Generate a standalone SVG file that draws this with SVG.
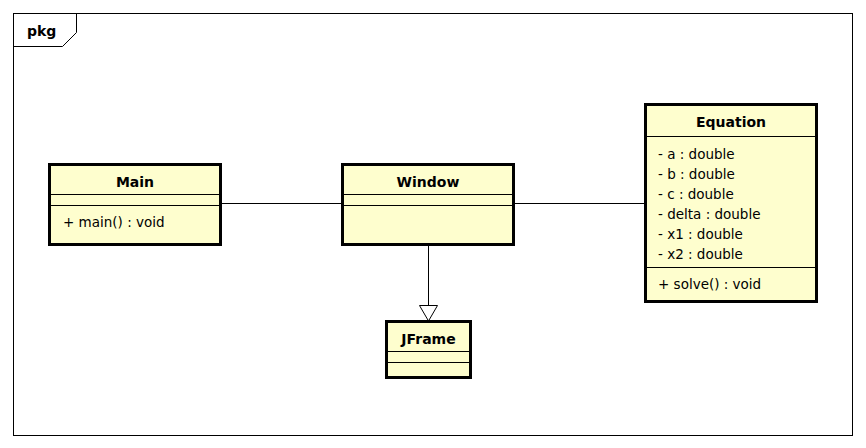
<svg xmlns="http://www.w3.org/2000/svg" width="866" height="448" viewBox="0 0 866 448">
<style>
.cls{fill:#FEFECE;stroke:#000;stroke-width:3}
.sep{stroke:#000;stroke-width:1}
.name{font-family:"DejaVu Sans",Verdana,sans-serif;font-size:14px;font-weight:bold;text-anchor:middle;fill:#000}
.mem{font-family:"DejaVu Sans",Verdana,sans-serif;font-size:13.5px;fill:#000}
.edge{stroke:#000;stroke-width:1;fill:none}
</style>
<rect x="0" y="0" width="866" height="448" fill="#fff"/>
<g id="pkg">
<rect x="13.5" y="13.5" width="839" height="422" fill="none" stroke="#000" stroke-width="1"/>
<path d="M13.5 46.5 H62.5 L76.5 32.5 V13.5" fill="none" stroke="#000" stroke-width="1"/>
<text x="27" y="36" style="font-family:'DejaVu Sans',Verdana,sans-serif;font-size:14px;font-weight:bold">pkg</text>
</g>
<g id="connectors">
<line class="edge" x1="220" y1="203.5" x2="342" y2="203.5"/>
<line class="edge" x1="513" y1="203.5" x2="645" y2="203.5"/>
<line class="edge" x1="428.5" y1="244" x2="428.5" y2="305"/>
<path class="edge" d="M419.5 305.5 L437.5 305.5 L428.5 321 Z" fill="#fff"/>
</g>
<g id="Main">
<rect class="cls" x="49.5" y="164.5" width="171" height="80"/>
<line class="sep" x1="49" y1="194.5" x2="221" y2="194.5"/>
<line class="sep" x1="49" y1="205.5" x2="221" y2="205.5"/>
<text class="name" x="135" y="187">Main</text>
<text class="mem" x="63" y="227">+ main() : void</text>
</g>
<g id="Window">
<rect class="cls" x="342.5" y="164.5" width="171" height="80"/>
<line class="sep" x1="342" y1="194.5" x2="514" y2="194.5"/>
<line class="sep" x1="342" y1="205.5" x2="514" y2="205.5"/>
<text class="name" x="428" y="187">Window</text>
</g>
<g id="JFrame">
<rect class="cls" x="386.5" y="321.5" width="84" height="56"/>
<line class="sep" x1="386" y1="351.5" x2="471" y2="351.5"/>
<line class="sep" x1="386" y1="362.5" x2="471" y2="362.5"/>
<text class="name" x="428.5" y="344">JFrame</text>
</g>
<g id="Equation">
<rect class="cls" x="645.5" y="104.5" width="171" height="197"/>
<line class="sep" x1="645" y1="136.5" x2="817" y2="136.5"/>
<line class="sep" x1="645" y1="267.5" x2="817" y2="267.5"/>
<text class="name" x="731" y="127">Equation</text>
<text class="mem" x="658" y="159">- a : double</text>
<text class="mem" x="658" y="179">- b : double</text>
<text class="mem" x="658" y="199">- c : double</text>
<text class="mem" x="658" y="219">- delta : double</text>
<text class="mem" x="658" y="239">- x1 : double</text>
<text class="mem" x="658" y="259">- x2 : double</text>
<text class="mem" x="658" y="289">+ solve() : void</text>
</g>
</svg>
